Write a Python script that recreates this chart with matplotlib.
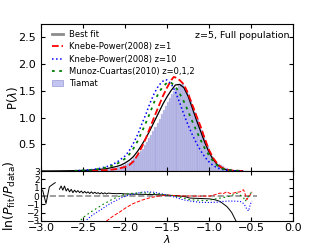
import numpy as np
import matplotlib
matplotlib.use('Agg')
import matplotlib.pyplot as plt
from matplotlib.lines import Line2D
from matplotlib.patches import Patch

# ---- top panel: spin distribution, x = log10(lambda) ----
fit_x = [-3.00, -2.90, -2.80, -2.70, -2.60, -2.50, -2.40, -2.30, -2.20, -2.10,
         -2.05, -2.00, -1.95, -1.90, -1.85, -1.80, -1.75, -1.70, -1.65, -1.60,
         -1.55, -1.50, -1.45, -1.40, -1.35, -1.30, -1.25, -1.20, -1.15, -1.10,
         -1.05, -1.00, -0.95, -0.90, -0.85, -0.80, -0.75, -0.70, -0.65, -0.60]
fit_y = [0.0005, 0.001, 0.002, 0.004, 0.007, 0.011, 0.018, 0.030, 0.050, 0.085,
         0.11, 0.15, 0.20, 0.27, 0.37, 0.49, 0.62, 0.77, 0.93, 1.09,
         1.25, 1.39, 1.51, 1.61, 1.62, 1.56, 1.40, 1.18, 0.95, 0.74,
         0.53, 0.35, 0.21, 0.115, 0.058, 0.026, 0.011, 0.004, 0.0015, 0.0005]

kp1_x = [-2.40, -2.30, -2.20, -2.10, -2.00, -1.95, -1.90, -1.85, -1.80, -1.75,
         -1.70, -1.65, -1.60, -1.55, -1.50, -1.45, -1.42, -1.40, -1.35, -1.30,
         -1.25, -1.20, -1.15, -1.10, -1.05, -1.00, -0.95, -0.90, -0.85, -0.80,
         -0.75, -0.70, -0.60]
kp1_y = [0.003, 0.008, 0.018, 0.038, 0.075, 0.11, 0.18, 0.30, 0.45, 0.62,
         0.82, 1.02, 1.21, 1.40, 1.56, 1.70, 1.76, 1.75, 1.70, 1.62,
         1.45, 1.24, 1.03, 0.83, 0.60, 0.39, 0.24, 0.13, 0.065, 0.03,
         0.012, 0.005, 0.001]

kp10_x = [-2.60, -2.50, -2.40, -2.30, -2.20, -2.10, -2.00, -1.95, -1.90, -1.85,
          -1.80, -1.75, -1.70, -1.65, -1.60, -1.55, -1.52, -1.50, -1.45, -1.40,
          -1.35, -1.30, -1.25, -1.20, -1.15, -1.10, -1.05, -1.00, -0.95, -0.90,
          -0.85, -0.80, -0.70, -0.60]
kp10_y = [0.005, 0.012, 0.025, 0.05, 0.09, 0.16, 0.28, 0.38, 0.52, 0.68,
          0.88, 1.07, 1.28, 1.46, 1.60, 1.68, 1.71, 1.70, 1.63, 1.48,
          1.28, 1.06, 0.86, 0.68, 0.52, 0.38, 0.26, 0.17, 0.10, 0.06,
          0.03, 0.015, 0.004, 0.001]

mc_x = [-2.60, -2.50, -2.40, -2.30, -2.20, -2.10, -2.00, -1.95, -1.90, -1.85,
        -1.80, -1.75, -1.70, -1.65, -1.60, -1.55, -1.50, -1.47, -1.45, -1.40,
        -1.35, -1.30, -1.25, -1.20, -1.15, -1.10, -1.05, -1.00, -0.95, -0.90,
        -0.85, -0.80, -0.70, -0.60]
mc_y = [0.004, 0.01, 0.02, 0.04, 0.075, 0.13, 0.23, 0.31, 0.42, 0.56,
        0.73, 0.91, 1.10, 1.30, 1.46, 1.58, 1.65, 1.66, 1.65, 1.58,
        1.45, 1.30, 1.12, 0.93, 0.75, 0.58, 0.42, 0.29, 0.18, 0.10,
        0.05, 0.025, 0.006, 0.001]

# Tiamat histogram, bins of 0.025 from -2.8 to -0.55
hist_edges = np.arange(-2.8, -0.5499, 0.025)
hist_h = [0.002, 0.002, 0.0023, 0.0026, 0.003, 0.0035, 0.004, 0.0046, 0.0053, 0.006,
          0.0067, 0.0074, 0.0083, 0.0095, 0.011, 0.012, 0.0136, 0.016, 0.018, 0.020,
          0.023, 0.027, 0.030, 0.034, 0.039, 0.046, 0.053, 0.060, 0.068, 0.078,
          0.091, 0.107, 0.125, 0.146, 0.17, 0.20, 0.235, 0.275, 0.32, 0.37,
          0.42, 0.48, 0.54, 0.61, 0.68, 0.75, 0.83, 0.90, 0.98, 1.06,
          1.15, 1.22, 1.29, 1.37, 1.44, 1.50, 1.56, 1.60, 1.62, 1.62,
          1.58, 1.52, 1.44, 1.32, 1.21, 1.10, 0.98, 0.87, 0.77, 0.66,
          0.56, 0.46, 0.37, 0.29, 0.23, 0.18, 0.14, 0.11, 0.085, 0.065,
          0.05, 0.04, 0.03, 0.02, 0.014, 0.01, 0.007, 0.005, 0.003, 0.002]

# ---- bottom panel: ln(P_fit / P_data) ----
rfit_x = [-2.98, -2.94, -2.90, -2.86, -2.83, -2.81,
          -2.78, -2.76, -2.74, -2.72, -2.70, -2.68, -2.66, -2.64, -2.62, -2.60,
          -2.58, -2.56, -2.54, -2.52, -2.50, -2.48, -2.46, -2.44, -2.42, -2.40,
          -2.38, -2.36, -2.34, -2.32, -2.30, -2.28, -2.26, -2.24, -2.22, -2.20,
          -2.15, -2.10, -2.05, -2.00, -1.90, -1.80, -1.70, -1.60, -1.50, -1.40,
          -1.30, -1.23, -1.10, -0.99, -0.93, -0.87, -0.83, -0.79, -0.76, -0.73,
          -0.71, -0.69, -0.67]
rfit_y = [0.7, -0.9, 1.1, 1.4, 1.6, np.nan,
          0.8, 1.2, 0.7, 1.2, 0.6, 0.9, 0.5, 0.8, 0.4, 0.7,
          0.45, 0.65, 0.4, 0.6, 0.35, 0.55, 0.35, 0.5, 0.3, 0.5,
          0.3, 0.45, 0.3, 0.4, 0.25, 0.4, 0.25, 0.38, 0.25, 0.35,
          0.3, 0.28, 0.3, 0.25, 0.22, 0.2, 0.18, 0.15, 0.1, 0.05,
          -0.05, -0.25, -0.3, -0.35, -0.45, -0.65, -0.95, -1.25, -1.6, -2.0,
          -2.4, -2.8, -3.2]

rkp1_x = [-2.26, -2.22, -2.14, -2.06, -1.98, -1.90, -1.80, -1.70, -1.60, -1.50,
          -1.40, -1.31, -1.20, -1.10, -0.99, -0.93, -0.87, -0.83, -0.79, -0.75,
          -0.71, -0.67, -0.63, -0.61, -0.59, -0.57, -0.55, -0.53, -0.51, -0.49]
rkp1_y = [-3.5, -3.0, -2.4, -1.9, -1.35, -0.9, -0.5, -0.2, 0.0, 0.1,
          0.05, 0.0, 0.0, -0.02, 0.0, 0.15, 0.35, 0.3, 0.5, 0.3,
          0.35, 0.45, 0.5, 0.65, 0.75, 0.2, -0.45, -0.1, 0.15, 0.5]

rkp10_x = [-2.50, -2.44, -2.36, -2.28, -2.20, -2.12, -2.04, -1.96, -1.88, -1.80,
           -1.74, -1.66, -1.58, -1.50, -1.42, -1.31, -1.20, -1.11, -1.00, -0.91,
           -0.83, -0.75, -0.69, -0.63, -0.59, -0.57, -0.55, -0.53, -0.51, -0.49]
rkp10_y = [-3.4, -2.7, -2.1, -1.6, -1.05, -0.6, -0.2, 0.1, 0.3, 0.45,
           0.5, 0.45, 0.3, 0.12, -0.1, -0.45, -0.65, -0.75, -0.78, -0.75,
           -0.65, -0.6, -0.62, -0.65, -0.9, -1.2, -1.6, -1.8, -1.0, -0.6]

rmc_x = [-2.56, -2.50, -2.42, -2.34, -2.26, -2.18, -2.10, -2.02, -1.94, -1.82,
         -1.70, -1.60, -1.50, -1.40, -1.30, -1.23, -1.13, -1.03, -0.95, -0.87,
         -0.81, -0.75, -0.70, -0.67, -0.63, -0.59, -0.57, -0.55, -0.53, -0.51,
         -0.49]
rmc_y = [-3.3, -2.6, -2.0, -1.5, -1.0, -0.55, -0.15, 0.15, 0.3, 0.38,
         0.35, 0.25, 0.1, 0.0, -0.25, -0.45, -0.5, -0.55, -0.4, -0.25,
         -0.15, 0.0, 0.2, 0.35, 0.1, -0.2, -0.65, -0.3, 0.0, 0.3,
         0.45]

zero_x = [-3.0, -0.43]

plt.rcParams['xtick.direction'] = 'in'
plt.rcParams['ytick.direction'] = 'in'
plt.rcParams['xtick.top'] = True
plt.rcParams['ytick.right'] = True

fig = plt.figure(figsize=(3.25, 2.45), dpi=100)
ax1 = fig.add_axes([0.126, 0.302, 0.776, 0.600])
ax2 = fig.add_axes([0.126, 0.098, 0.776, 0.204], sharex=ax1)

ax1.bar(hist_edges[:-1], hist_h, width=0.025, align='edge',
        facecolor='#aaaae0', edgecolor='#d4d4f2', linewidth=0.3)
ax1.plot(fit_x, fit_y, color='k', lw=0.9)
ax1.plot(kp1_x, kp1_y, 'r--', lw=1.3)
ax1.plot(kp10_x, kp10_y, 'b:', lw=1.1)
ax1.plot(mc_x, mc_y, color='g', ls=(0, (1.5, 2.5)), lw=1.3)

handles = [Line2D([], [], color='0.55', lw=2),
           Line2D([], [], color='r', ls='--', lw=1.3),
           Line2D([], [], color='b', ls=':', lw=1.1),
           Line2D([], [], color='g', ls=(0, (1.5, 2.5)), lw=1.3),
           Patch(facecolor='#c4c4f0', edgecolor='#9898d8', lw=0.5)]
labels = ['Best fit', 'Knebe-Power(2008) z=1', 'Knebe-Power(2008) z=10',
          'Munoz-Cuartas(2010) z=0,1,2', 'Tiamat']
ax1.legend(handles, labels, loc='upper left', frameon=False, fontsize=6.0,
           handlelength=1.3, handletextpad=0.8, labelspacing=0.4,
           borderaxespad=0.3, bbox_to_anchor=(0.02, 1.0))
ax1.text(0.985, 0.955, 'z=5, Full population', transform=ax1.transAxes,
         ha='right', va='top', fontsize=6.8)

ax1.set_xlim(-3.0, 0.0)
ax1.set_ylim(0, 2.75)
ax1.set_yticks([0.5, 1.0, 1.5, 2.0, 2.5])
ax1.tick_params(labelsize=8, length=3, labelbottom=False)
ax1.set_ylabel(r'P($\lambda$)', fontsize=8.5)
ax1.yaxis.set_label_coords(-0.085, 0.5)

ax2.plot(zero_x, [0, 0], color='0.55', ls='--', lw=1.2)
ax2.plot(rfit_x, rfit_y, color='k', lw=0.7)
ax2.plot(rkp1_x, rkp1_y, 'r--', lw=0.7)
ax2.plot(rkp10_x, rkp10_y, 'b:', lw=0.8)
ax2.plot(rmc_x, rmc_y, color='g', ls=(0, (1.5, 2.5)), lw=0.8)

ax2.set_ylim(-3, 3)
ax2.set_yticks([-3, -2, -1, 0, 1, 2, 3])
ax2.tick_params(axis='y', labelsize=6.5, length=3, pad=1)
ax2.tick_params(axis='x', labelsize=8, length=3, pad=1.5)
ax2.set_xticks([-3.0, -2.5, -2.0, -1.5, -1.0, -0.5, 0.0])
ax2.set_xlabel(r'$\lambda$', fontsize=8)
ax2.xaxis.set_label_coords(0.5, -0.25)
ax2.set_ylabel(r'$\ln(P_{\rm fit}/P_{\rm data})$', fontsize=9)
ax2.yaxis.set_label_coords(-0.09, 0.5)

fig.savefig('out.png', dpi=100)
